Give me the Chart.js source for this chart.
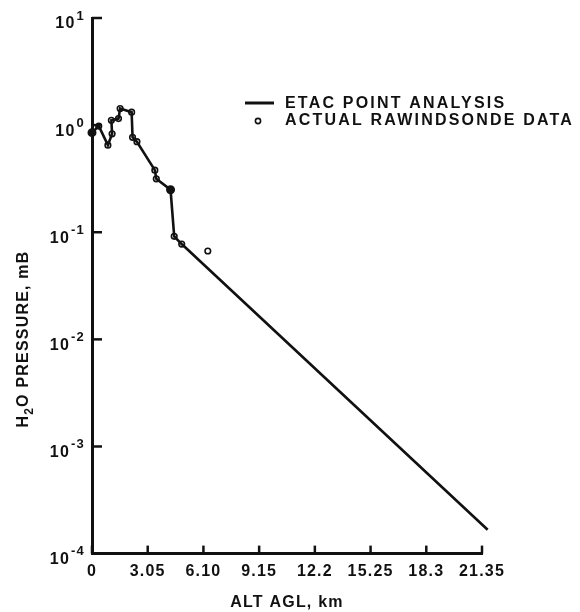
<!DOCTYPE html>
<html lang="en">
<head>
    <meta charset="UTF-8">
    <title>H2O Pressure vs Altitude</title>
    <style>
        body { margin: 0; background: #fff; }
        .wrap { width: 580px; height: 612px; position: relative; }
    </style>
</head>
<body>
    <div class="wrap"><canvas id="h2oChart"></canvas></div>

    <script src="https://cdn.jsdelivr.net/npm/chart.js"></script>
    <script>
        // ETAC point analysis (solid line), km / mB
        const etacAlt = [0, 0.37, 0.87, 1.10, 1.06, 1.45, 1.54, 2.17, 2.22, 2.46, 3.44, 3.52, 4.30, 4.50, 4.91, 21.66];
        const etacH2O = [0.85, 0.98, 0.65, 0.83, 1.11, 1.15, 1.43, 1.32, 0.77, 0.70, 0.38, 0.315, 0.249, 0.0916, 0.0776, 0.000167];
        // analysis points drawn as solid dots
        const etacDots = [0, 12];

        // actual rawinsonde data (open circles)
        const raobAlt = [0.37, 0.87, 1.10, 1.06, 1.45, 1.54, 2.17, 2.22, 2.46, 3.44, 3.52, 4.50, 4.91, 6.34];
        const raobH2O = [0.98, 0.65, 0.83, 1.11, 1.15, 1.43, 1.32, 0.77, 0.70, 0.38, 0.315, 0.0916, 0.0776, 0.0668];

        const xTicks = [0, 3.05, 6.10, 9.15, 12.2, 15.25, 18.3, 21.35];
        const xTickLabels = ['0', '3.05', '6.10', '9.15', '12.2', '15.25', '18.3', '21.35'];
        const yTicks = [1e-4, 1e-3, 1e-2, 1e-1, 1, 10];
        const yTickExp = ['-4', '-3', '-2', '-1', '0', '1'];

        const FONT = '"Liberation Sans", Arial, sans-serif';
        const INK = '#111';

        // ticks inside the axes, superscript tick labels, rotated title and legend
        const paperPlugin = {
            id: 'paper',
            beforeDraw(chart) {
                chart.ctx.letterSpacing = '1.2px';
            },
            afterDraw(chart) {
                const ctx = chart.ctx;
                const xs = chart.scales.x, ys = chart.scales.y;
                const ca = chart.chartArea;
                ctx.save();
                ctx.strokeStyle = INK;
                ctx.fillStyle = INK;
                ctx.lineWidth = 2.5;

                // y ticks + labels
                yTicks.forEach((v, i) => {
                    const py = ys.getPixelForValue(v);
                    ctx.beginPath();
                    ctx.moveTo(ca.left, py);
                    ctx.lineTo(ca.left + 10, py);
                    ctx.stroke();

                    ctx.textBaseline = 'middle';
                    ctx.textAlign = 'right';
                    ctx.font = 'bold 13px ' + FONT;
                    const ew = ctx.measureText(yTickExp[i]).width;
                    const right = ca.left - 7;
                    ctx.fillText(yTickExp[i], right, py - 2);
                    ctx.font = 'bold 16px ' + FONT;
                    ctx.fillText('10', right - ew - 1, py + 6);
                });

                // x ticks
                xTicks.forEach(v => {
                    const px = xs.getPixelForValue(v);
                    ctx.beginPath();
                    ctx.moveTo(px, ca.bottom);
                    ctx.lineTo(px, ca.bottom - 8);
                    ctx.stroke();
                });

                // y title: H2O PRESSURE, mB
                ctx.translate(24, 339);
                ctx.rotate(-Math.PI / 2);
                ctx.textBaseline = 'middle';
                ctx.textAlign = 'left';
                const bigF = 'bold 16px ' + FONT, subF = 'bold 12px ' + FONT;
                ctx.font = bigF;
                const w1 = ctx.measureText('H').width;
                const w3 = ctx.measureText('O PRESSURE, mB').width;
                ctx.font = subF;
                const w2 = ctx.measureText('2').width;
                let tx = -(w1 + w2 + w3) / 2;
                ctx.font = bigF;
                ctx.fillText('H', tx, 0);
                tx += w1;
                ctx.font = subF;
                ctx.fillText('2', tx, 6);
                tx += w2;
                ctx.font = bigF;
                ctx.fillText('O PRESSURE, mB', tx, 0);
                ctx.setTransform(1, 0, 0, 1, 0, 0);

                // legend
                const lx = 245;
                ctx.lineWidth = 3;
                ctx.beginPath();
                ctx.moveTo(lx, 103);
                ctx.lineTo(lx + 29, 103);
                ctx.stroke();
                ctx.lineWidth = 1.6;
                ctx.fillStyle = '#fff';
                ctx.beginPath();
                ctx.arc(lx + 13, 121, 2.6, 0, Math.PI * 2);
                ctx.fill();
                ctx.stroke();
                ctx.fillStyle = INK;
                ctx.letterSpacing = '2.2px';
                ctx.font = 'bold 16px ' + FONT;
                ctx.textAlign = 'left';
                ctx.textBaseline = 'middle';
                ctx.fillText(chart.data.datasets[0].label, lx + 40, 104);
                ctx.fillText(chart.data.datasets[1].label, lx + 40, 121);
                ctx.restore();
            }
        };

        new Chart(document.getElementById('h2oChart'), {
            type: 'scatter',
            data: {
                datasets: [{
                    label: 'ETAC POINT ANALYSIS',
                    type: 'line',
                    data: etacAlt.map((a, i) => ({ x: a, y: etacH2O[i] })),
                    borderColor: INK,
                    borderWidth: 2.6,
                    backgroundColor: INK,
                    pointRadius: c => etacDots.includes(c.dataIndex) ? 3.2 : 0,
                    tension: 0,
                    clip: false
                }, {
                    label: 'ACTUAL RAWINDSONDE DATA',
                    data: raobAlt.map((a, i) => ({ x: a, y: raobH2O[i] })),
                    borderColor: INK,
                    borderWidth: 1.6,
                    backgroundColor: '#fff',
                    pointRadius: 2.8
                }]
            },
            options: {
                responsive: true,
                maintainAspectRatio: false,
                animation: false,
                layout: { padding: { left: 92, top: 18, right: 98, bottom: 0 } },
                plugins: {
                    legend: { display: false },
                    tooltip: { enabled: false }
                },
                scales: {
                    x: {
                        type: 'linear',
                        min: 0,
                        max: 21.35,
                        border: { color: INK, width: 3 },
                        grid: { display: false, drawTicks: false },
                        afterBuildTicks: s => { s.ticks = xTicks.map(v => ({ value: v })); },
                        ticks: {
                            callback: (v, i) => xTickLabels[i],
                            font: { family: FONT, size: 16, weight: 'bold' },
                            color: INK,
                            padding: 8,
                            maxRotation: 0,
                            autoSkip: false
                        },
                        title: {
                            display: true,
                            text: 'ALT AGL, km',
                            font: { family: FONT, size: 16, weight: 'bold' },
                            color: INK,
                            padding: { top: 4, bottom: 0 }
                        }
                    },
                    y: {
                        type: 'logarithmic',
                        min: 1e-4,
                        max: 10,
                        border: { color: INK, width: 3 },
                        grid: { display: false, drawTicks: false },
                        afterBuildTicks: s => { s.ticks = yTicks.map(v => ({ value: v })); },
                        ticks: { display: false }
                    }
                }
            },
            plugins: [paperPlugin]
        });
    </script>
</body>
</html>
